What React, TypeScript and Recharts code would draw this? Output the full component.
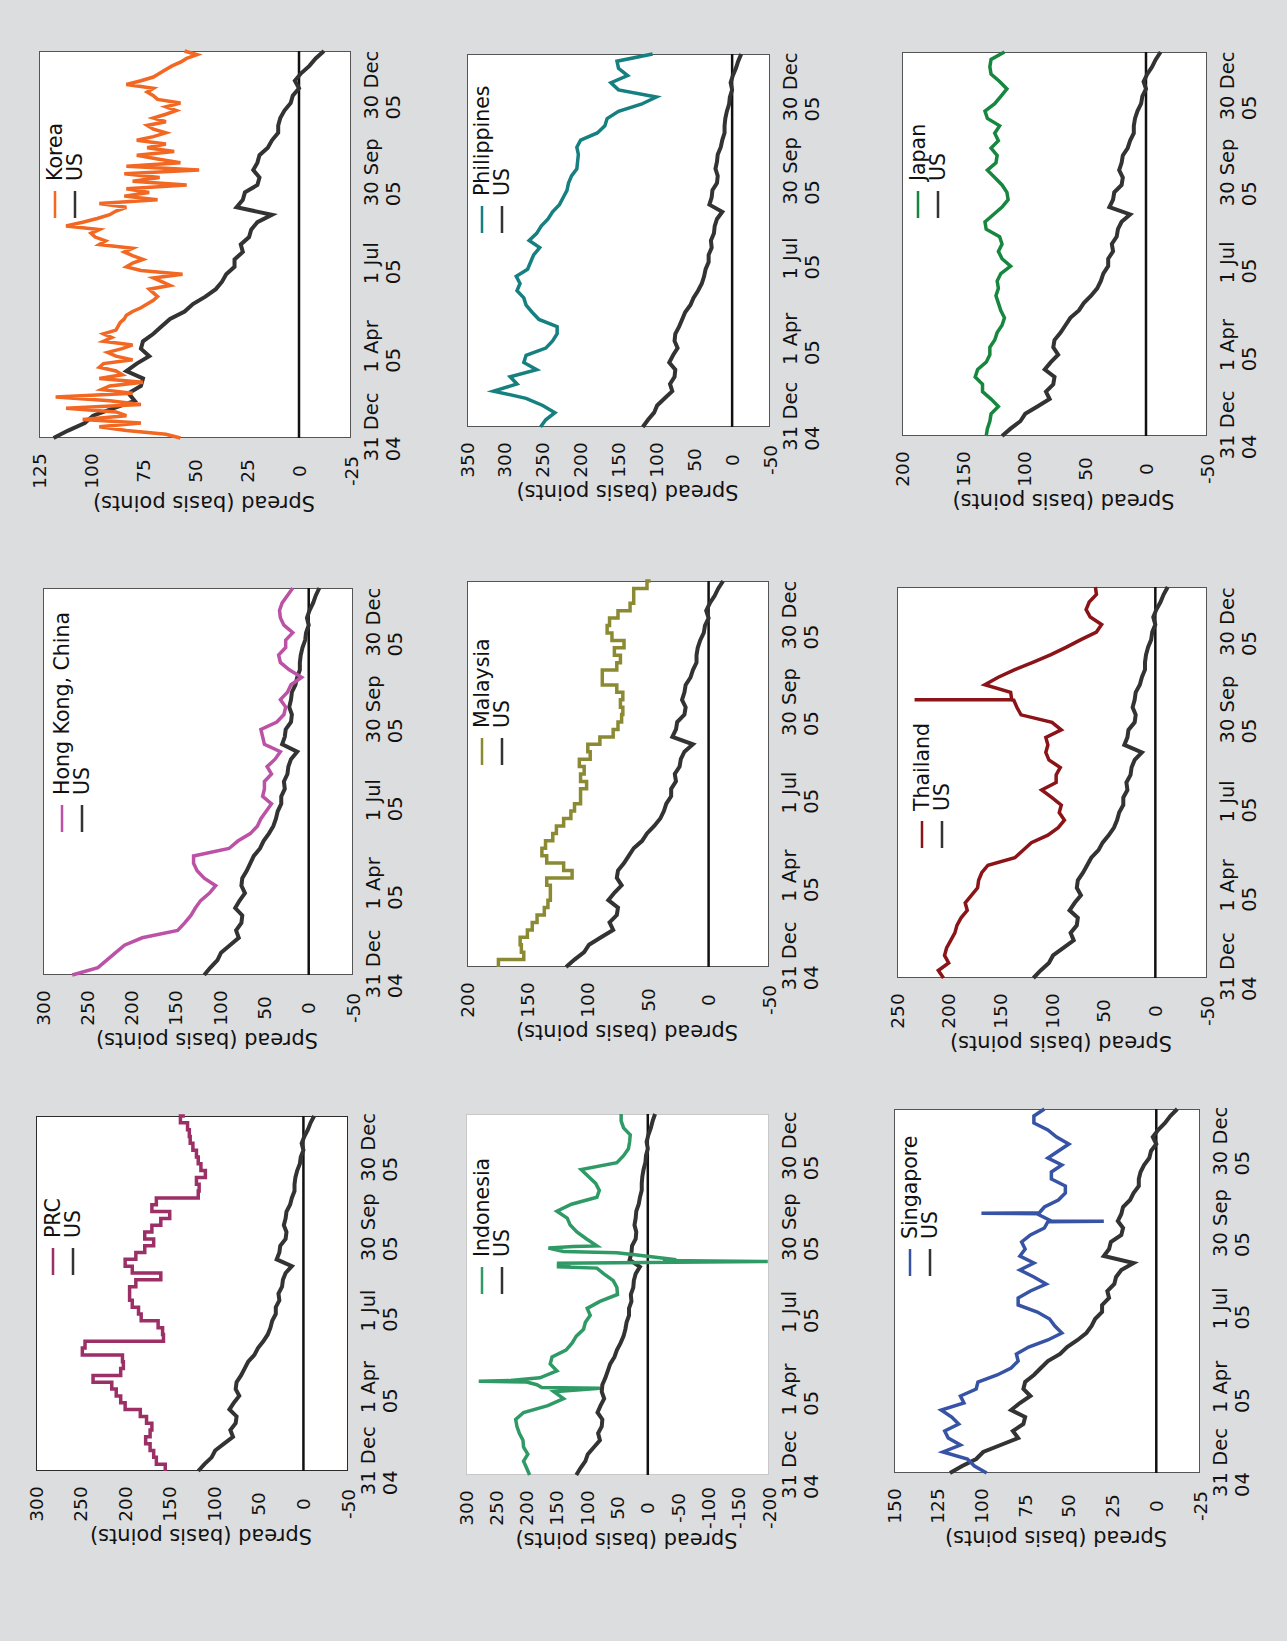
import React from 'react';
import { LineChart, Line, XAxis, YAxis, ReferenceLine, Legend } from 'recharts';

const FONT = '"DejaVu Sans", Verdana, sans-serif';
const BG = '#dcdddf';
const US_COLOR = '#333333';

// x axis is in weeks from 31 Dec 04 (0) to 30 Dec 05 (52)
const tickWeeks = [1.5, 12.3, 23.5, 35.7, 47.4];
const tickDays = ['31 Dec', '1 Apr', '1 Jul', '30 Sep', '30 Dec'];
const tickYears = ['04', '05', '05', '05', '05'];

// weekly spreads, basis points
const us = [118, 111, 103, 99, 89, 79, 82, 76, 75, 83, 78, 72, 76, 75, 70, 66, 62, 55, 51, 45, 40, 37, 35, 31, 31, 27, 28, 24, 23, 20, 13, 30, 27, 26, 20, 19, 22, 20, 19, 15, 13, 10, 10, 9, 7, 4, 3, 0, 2, -1, -5, -8, -12];
const prc = [155, 165, 168, 172, 177, 172, 170, 176, 183, 200, 205, 210, 215, 236, 205, 202, 203, 248, 245, 157, 158, 163, 182, 185, 192, 195, 195, 188, 160, 192, 200, 188, 178, 168, 178, 170, 160, 150, 170, 165, 118, 117, 120, 110, 115, 118, 120, 124, 127, 128, 130, 138, 133];
const hongKong = [267, 238, 228, 218, 208, 188, 148, 140, 133, 128, 122, 112, 105, 118, 126, 130, 130, 90, 80, 66, 58, 54, 48, 42, 52, 50, 50, 42, 47, 38, 32, 50, 52, 54, 36, 28, 26, 32, 24, 20, 8, 22, 32, 34, 26, 26, 18, 28, 32, 33, 30, 24, 18];
// half-weekly
const korea = [
  57, 64, 83, 96, 76, 104, 83, 88, 112, 76,
  91, 117, 80, 95, 91, 75, 96, 85, 88, 96,
  94, 80, 88, 92, 85, 80, 94, 90, 94, 88,
  87, 86, 84, 83, 80, 76, 73, 70, 68, 70,
  72, 62, 66, 70, 56, 76, 83, 80, 75, 80,
  84, 80, 96, 93, 98, 100, 96, 112, 104, 97,
  91, 88, 83, 96, 68, 84, 72, 83, 54, 80,
  67, 84, 48, 83, 57, 68, 78, 60, 73, 64,
  78, 70, 64, 70, 73, 64, 70, 64, 59, 64,
  57, 68, 70, 73, 70, 83, 76, 70, 67, 64,
  61, 57, 54, 49, 55,
];
const indonesia = [195, 200, 205, 198, 205, 206, 212, 216, 218, 205, 165, 139, 155, 183, 178, 150, 161, 158, 135, 125, 118, 106, 103, 95, 100, 79, 50, 51, 57, 73, 150, -47, 51, 84, 101, 117, 128, 133, 150, 126, 84, 80, 86, 98, 110, 51, 40, 32, 30, 29, 40, 44, 44];
const indonesiaSpikes: [number, number][] = [[12.5, 79], [12.6, 175], [13.4, 200], [13.5, 279], [13.6, 227], [29.8, 84], [30.3, 128], [30.5, 150], [30.75, -198], [30.9, -25], [31.7, 18], [32.2, 139], [32.7, 164], [32.9, 123]];
const malaysia = [174, 153, 155, 156, 150, 146, 142, 136, 133, 131, 131, 134, 113, 120, 134, 138, 135, 129, 126, 120, 114, 111, 106, 106, 101, 106, 103, 107, 98, 100, 90, 79, 75, 72, 71, 73, 71, 76, 88, 88, 76, 73, 78, 70, 80, 84, 82, 75, 65, 62, 62, 51, 48];
const philippines = [253, 246, 234, 250, 272, 315, 284, 293, 258, 275, 272, 246, 237, 231, 231, 255, 264, 272, 275, 284, 280, 285, 270, 266, 262, 254, 268, 258, 252, 243, 237, 228, 223, 218, 216, 212, 205, 204, 203, 205, 200, 178, 168, 165, 150, 120, 100, 150, 160, 138, 150, 152, 105];
const singapore = [97, 104, 108, 122, 112, 119, 121, 113, 117, 123, 110, 112, 103, 102, 91, 83, 79, 80, 73, 62, 54, 58, 61, 68, 79, 79, 72, 63, 70, 78, 70, 78, 75, 77, 72, 64, 60, 68, 64, 56, 52, 52, 60, 60, 54, 62, 56, 50, 57, 62, 70, 70, 64];
const singaporeSpikes: [number, number][] = [[35.9, 62], [35.95, 30], [37.05, 67], [37.1, 100], [37.15, 67]];
const thailand = [205, 210, 200, 204, 202, 198, 194, 192, 188, 182, 184, 178, 172, 171, 168, 162, 136, 128, 120, 104, 94, 88, 93, 91, 100, 110, 96, 96, 92, 103, 106, 104, 106, 91, 100, 130, 134, 140, 140, 165, 152, 136, 118, 101, 86, 72, 57, 52, 63, 67, 64, 57, 58];
const thailandSpikes: [number, number][] = [[36.95, 137], [37.0, 233], [37.05, 139]];
const japan = [131, 130, 128, 127, 121, 127, 134, 134, 140, 138, 131, 128, 128, 124, 122, 118, 116, 119, 121, 123, 121, 122, 119, 111, 118, 121, 118, 120, 131, 132, 125, 118, 113, 114, 118, 124, 130, 123, 122, 127, 121, 124, 120, 130, 132, 124, 119, 114, 120, 127, 128, 127, 116];

const ticks300 = [-50, 0, 50, 100, 150, 200, 250, 300];
const ticks350 = [-50, 0, 50, 100, 150, 200, 250, 300, 350];
const ticks250 = [-50, 0, 50, 100, 150, 200, 250];
const ticks200 = [-50, 0, 50, 100, 150, 200];
const ticksIndo = [-200, -150, -100, -50, 0, 50, 100, 150, 200, 250, 300];
const ticks150 = [-25, 0, 25, 50, 75, 100, 125, 150];
const ticks125 = [-25, 0, 25, 50, 75, 100, 125];

type Pt = { w: number; v: number };
const toPoints = (values: number[], step = 1, extra: [number, number][] = []): Pt[] =>
  [...values.map((v, i) => ({ w: i * step, v })), ...extra.map(([w, v]) => ({ w, v }))].sort((a, b) => a.w - b.w);

const usPoints = toPoints(us);

const panels = [
  { name: 'PRC', color: '#9c2f66', data: toPoints(prc), curve: 'stepAfter', domain: [-50, 300], ticks: ticks300, x: 170, y: 36, w: 355, h: 312, legend: [196, 17], frame: '#2b2b2b' },
  { name: 'Hong Kong, China', color: '#bb52a6', data: toPoints(hongKong), curve: 'linear', domain: [-50, 300], ticks: ticks300, x: 666, y: 43, w: 387, h: 310, legend: [143, 19], frame: '#555' },
  { name: 'Korea', color: '#f26722', data: toPoints(korea, 0.5), curve: 'linear', domain: [-25, 125], ticks: ticks125, x: 1203, y: 39, w: 387, h: 312, legend: [220, 16], frame: '#555' },
  { name: 'Indonesia', color: '#2f9a66', data: toPoints(indonesia, 1, indonesiaSpikes), curve: 'linear', domain: [-200, 300], ticks: ticksIndo, x: 166, y: 466, w: 361, h: 303, legend: [181, 16], frame: '#c8c8c8' },
  { name: 'Malaysia', color: '#8b8a33', data: toPoints(malaysia), curve: 'stepAfter', domain: [-50, 200], ticks: ticks200, x: 674, y: 467, w: 386, h: 302, legend: [202, 15], frame: '#555' },
  { name: 'Philippines', color: '#167f80', data: toPoints(philippines), curve: 'linear', domain: [-50, 350], ticks: ticks350, x: 1214, y: 467, w: 373, h: 303, legend: [194, 15], frame: '#555' },
  { name: 'Singapore', color: '#3653a5', data: toPoints(singapore, 1, singaporeSpikes), curve: 'linear', domain: [-25, 150], ticks: ticks150, x: 168, y: 894, w: 364, h: 306, legend: [197, 16], frame: '#555' },
  { name: 'Thailand', color: '#8a1418', data: toPoints(thailand, 1, thailandSpikes), curve: 'linear', domain: [-50, 250], ticks: ticks250, x: 663, y: 897, w: 391, h: 310, legend: [130, 25], frame: '#555' },
  { name: 'Japan', color: '#17873f', data: toPoints(japan), curve: 'linear', domain: [-50, 200], ticks: ticks200, x: 1205, y: 902, w: 384, h: 305, legend: [218, 16], frame: '#555' },
];

const Y_AXIS_W = 90;
const TOP = 10;
const X_AXIS_H = 70;

let ctx: CanvasRenderingContext2D | null = null;
const measure = (s: string, size: number) => {
  if (!ctx && typeof document !== 'undefined') ctx = document.createElement('canvas').getContext('2d');
  if (!ctx) return s.length * size * 0.6;
  ctx.font = `${size}px "DejaVu Sans"`;
  return ctx.measureText(s).width;
};

const XTick = (props: any) => {
  const { x, y, payload } = props;
  const i = tickWeeks.indexOf(payload.value);
  const day = tickDays[i] ?? '';
  const left = x - measure(day, 19.5) / 2;
  return (
    <text x={left} y={y + 27} fontSize={19.5} fontFamily={FONT} fill="#111" textAnchor="start">
      <tspan x={left}>{day}</tspan>
      <tspan x={left} dy={22}>{tickYears[i] ?? ''}</tspan>
    </text>
  );
};

const YTick = (props: any) => (
  <text x={props.x - 33} y={props.y} fontSize={18.5} fontFamily={FONT} fill="#111" textAnchor="middle" dominantBaseline="central">
    {props.payload.value}
  </text>
);

const yLabel = (props: any) => {
  const vb = props.viewBox || { x: 0, y: TOP, width: Y_AXIS_W, height: 300 };
  const cx = vb.x + vb.width - 65;
  const cy = vb.y + vb.height / 2 + 9;
  return (
    <text x={cx} y={cy} transform={`rotate(-90 ${cx} ${cy})`} fontSize={21} fontFamily={FONT} fill="#111" textAnchor="middle" dominantBaseline="central">
      Spread (basis points)
    </text>
  );
};

const LegendBox = ({ items }: { items: { name: string; color: string }[] }) => (
  <div style={{ fontFamily: FONT }}>
    {items.map((it) => (
      <div key={it.name} style={{ display: 'flex', alignItems: 'center', height: 20, lineHeight: '20px' }}>
        <svg width={27} height={6} style={{ display: 'block' }}>
          <line x1={0} y1={3} x2={27} y2={3} stroke={it.color} strokeWidth={2.5} />
        </svg>
        <span style={{ marginLeft: 10, fontSize: 20.5, color: '#111', whiteSpace: 'nowrap' }}>{it.name}</span>
      </div>
    ))}
  </div>
);

const Panel = ({ p }: { p: (typeof panels)[number] }) => (
  <>
    <div style={{ position: 'absolute', left: p.x, top: p.y, width: p.w, height: p.h, background: '#fff', boxSizing: 'border-box', border: `1.5px solid ${p.frame}` }} />
    <div style={{ position: 'absolute', left: p.x - Y_AXIS_W, top: p.y - TOP }}>
      <LineChart width={Y_AXIS_W + p.w + 10} height={TOP + p.h + X_AXIS_H} margin={{ top: TOP, right: 10, bottom: 0, left: 0 }}>
        <XAxis type="number" dataKey="w" domain={[0, 52]} ticks={tickWeeks} interval={0} height={X_AXIS_H} axisLine={false} tickLine={false} tickSize={0} tickMargin={0} tick={<XTick />} />
        <YAxis type="number" domain={p.domain} ticks={p.ticks} interval={0} width={Y_AXIS_W} axisLine={false} tickLine={false} tickSize={0} tickMargin={0} tick={<YTick />} label={yLabel} />
        <ReferenceLine y={0} stroke="#111" strokeWidth={2.5} />
        <Line data={usPoints} dataKey="v" name="US" type="linear" stroke={US_COLOR} strokeWidth={4} dot={false} isAnimationActive={false} />
        <Line data={p.data} dataKey="v" name={p.name} type={p.curve as any} stroke={p.color} strokeWidth={3.5} dot={false} isAnimationActive={false} />
        <Legend
          layout="vertical"
          align="center"
          verticalAlign="middle"
          wrapperStyle={{ position: 'absolute', left: Y_AXIS_W + p.legend[0], top: TOP + p.legend[1] - 10, width: 'auto', height: 'auto' }}
          content={() => <LegendBox items={[{ name: p.name, color: p.color }, { name: 'US', color: US_COLOR }]} />}
        />
      </LineChart>
    </div>
  </>
);

export default function App() {
  return (
    <>
      <style>{`html,body{margin:0;padding:0;overflow:hidden;background:${BG}}`}</style>
      <div
        style={{
          position: 'absolute',
          left: 0,
          top: 0,
          width: 1641,
          height: 1287,
          background: BG,
          fontFamily: FONT,
          transformOrigin: '0 0',
          transform: 'translateY(1641px) rotate(-90deg)',
        }}
      >
        {panels.map((p) => (
          <Panel key={p.name} p={p} />
        ))}
      </div>
    </>
  );
}
